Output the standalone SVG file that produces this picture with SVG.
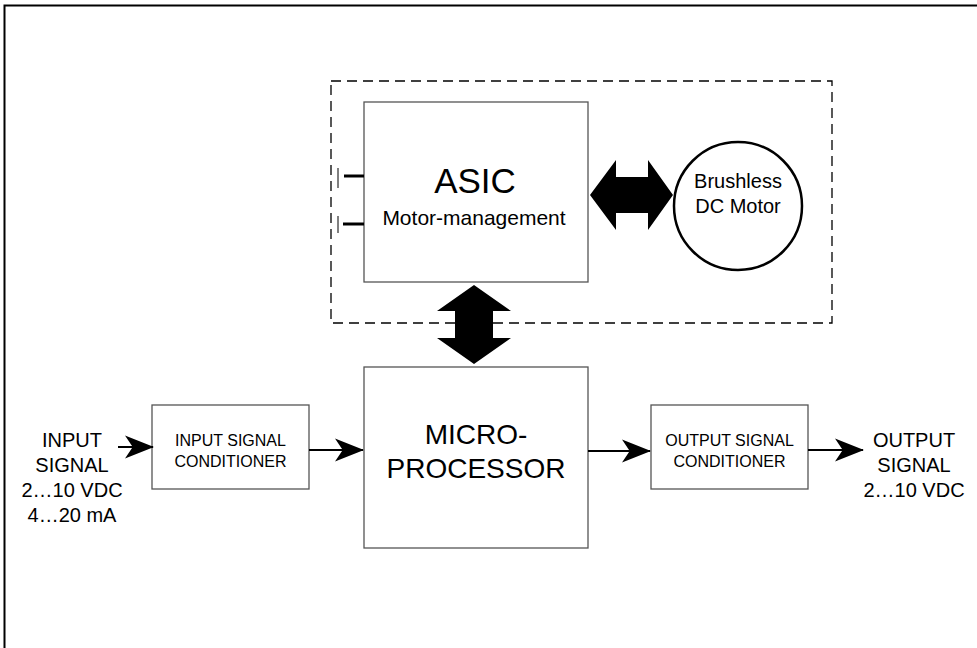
<svg xmlns="http://www.w3.org/2000/svg" width="977" height="648" viewBox="0 0 977 648">
<style>
.box{fill:#fff;stroke:#555;stroke-width:1.3}
.t{font-family:"Liberation Sans",Arial,sans-serif;fill:#000;text-anchor:middle}
.ln{stroke:#000;stroke-width:1.8;fill:none}
.big{fill:#000;stroke:none}
</style>
<defs>
<marker id="ah" markerUnits="userSpaceOnUse" viewBox="0 0 30 24" refX="29" refY="12" markerWidth="29" markerHeight="25" orient="auto">
<path d="M0,0 L30,12 L0,24 L8,12 Z" fill="#000"/>
</marker>
</defs>
<rect x="4.5" y="5.5" width="1000" height="700" fill="#fff" stroke="#000" stroke-width="2"/>
<g id="asic-module">
<rect x="331" y="81" width="501" height="242" fill="none" stroke="#000" stroke-width="1.3" stroke-dasharray="10,6"/>
</g>
<g id="asic">
<rect class="box" x="364" y="102" width="224" height="180"/>
<text class="t" x="475" y="193" font-size="35">ASIC</text>
<text class="t" x="474" y="225" font-size="21">Motor-management</text>
</g>
<g id="asic-pins">
<line x1="338" y1="168" x2="338" y2="188" stroke="#000" stroke-width="1"/>
<line x1="344" y1="176" x2="364" y2="176" stroke="#000" stroke-width="3"/>
<line x1="338" y1="216" x2="338" y2="233" stroke="#000" stroke-width="1"/>
<line x1="343" y1="224" x2="364" y2="224" stroke="#000" stroke-width="3"/>
</g>
<g id="motor">
<circle cx="738" cy="206" r="64" fill="#fff" stroke="#000" stroke-width="2.5"/>
<text class="t" x="738" y="188" font-size="20">Brushless</text>
<text class="t" x="738" y="213" font-size="20">DC Motor</text>
</g>
<g id="microprocessor">
<rect class="box" x="364" y="367" width="224" height="181"/>
<text class="t" x="476" y="444" font-size="28">MICRO-</text>
<text class="t" x="476" y="478" font-size="28">PROCESSOR</text>
</g>
<g id="input-conditioner">
<rect class="box" x="152" y="405" width="157" height="84"/>
<text class="t" x="230.5" y="446" font-size="16">INPUT SIGNAL</text>
<text class="t" x="230.5" y="467" font-size="16">CONDITIONER</text>
</g>
<g id="output-conditioner">
<rect class="box" x="651" y="405" width="157" height="84"/>
<text class="t" x="729.5" y="446" font-size="16">OUTPUT SIGNAL</text>
<text class="t" x="729.5" y="467" font-size="16">CONDITIONER</text>
</g>
<g id="input-signal">
<text class="t" x="72" y="447" font-size="20">INPUT</text>
<text class="t" x="72" y="472" font-size="20">SIGNAL</text>
<text class="t" x="72" y="497" font-size="20">2…10 VDC</text>
<text class="t" x="72" y="522" font-size="20">4…20 mA</text>
</g>
<g id="output-signal">
<text class="t" x="914" y="447" font-size="20">OUTPUT</text>
<text class="t" x="914" y="472" font-size="20">SIGNAL</text>
<text class="t" x="914" y="497" font-size="20">2…10 VDC</text>
</g>
<g id="connectors">
<line class="ln" x1="118" y1="447" x2="153" y2="447" marker-end="url(#ah)"/>
<line class="ln" x1="309" y1="450" x2="363" y2="450" marker-end="url(#ah)"/>
<line class="ln" x1="588" y1="451" x2="650" y2="451" marker-end="url(#ah)"/>
<line class="ln" x1="808" y1="450" x2="863" y2="450" marker-end="url(#ah)"/>
<polygon class="big" points="590,195 616,160 616,177 648,177 648,160 673,195 648,230 648,213 616,213 616,230"/>
<polygon class="big" points="474,285 511,311 493,311 493,338 511,338 474,364 437,338 455,338 455,311 437,311"/>
</g>
</svg>
